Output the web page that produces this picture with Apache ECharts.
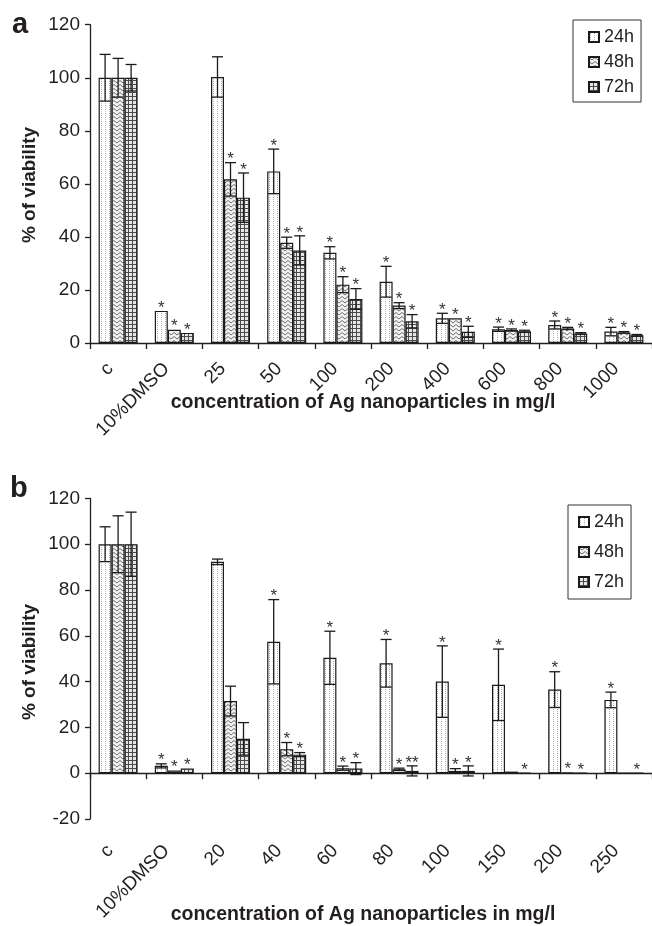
<!DOCTYPE html>
<html>
<head>
<meta charset="utf-8">
<script src="https://cdn.jsdelivr.net/npm/echarts@6/dist/echarts.min.js"></script>
<style>
  html, body { margin: 0; padding: 0; background: #fff; }
  #chart { width: 652px; height: 926px; }
</style>
</head>
<body>
<div id="chart"></div>
<script>
// Cell viability (%) after exposure to Ag nanoparticles, mean ± SD
const catsA = ['c', '10%DMSO', '25', '50', '100', '200', '400', '600', '800', '1000'];
const a24 = [100, 12.1, 100.3, 64.7, 34.0, 23.1, 9.3, 5.2, 6.8, 4.3];
const a24err = [8.8, 0, 7.6, 8.4, 2.3, 5.8, 1.9, 0.8, 1.5, 1.6];
const a48 = [100, 5.0, 61.7, 37.8, 22.0, 14.1, 9.3, 4.9, 5.5, 4.0];
const a48err = [7.3, 0, 6.3, 2.1, 3.0, 1.1, 0, 0.4, 0.4, 0.3];
const a72 = [100, 3.8, 54.8, 34.9, 16.6, 8.2, 4.2, 4.4, 3.6, 2.9];
const a72err = [5.0, 0, 9.3, 5.5, 3.9, 2.5, 2.1, 0.4, 0.3, 0.3];
const a24star = ['', '*', '', '*', '*', '*', '*', '*', '*', '*'];
const a48star = ['', '*', '*', '*', '*', '*', '*', '*', '*', '*'];
const a72star = ['', '*', '*', '*', '*', '*', '*', '*', '*', '*'];

const catsB = ['c', '10%DMSO', '20', '40', '60', '80', '100', '150', '200', '250'];
const b24 = [100, 3.2, 92.3, 57.4, 50.4, 48.0, 40.0, 38.6, 36.5, 32.0];
const b24err = [7.6, 0.9, 1.2, 18.4, 11.6, 10.4, 15.6, 15.6, 7.8, 3.4];
const b48 = [100, 1.2, 31.5, 10.5, 2.2, 1.7, 1.0, 0.7, 0.4, 0];
const b48err = [12.4, 0, 6.5, 2.9, 0.9, 0.5, 1.0, 0, 0, 0];
const b72 = [100, 2.0, 15.0, 8.1, 2.0, 1.0, 1.0, 0, 0, 0];
const b72err = [14.0, 0, 7.1, 0.9, 2.6, 2.2, 2.2, 0, 0, 0];
const b24star = ['', '*', '', '*', '*', '*', '*', '*', '*', '*'];
const b48star = ['', '*', '', '*', '*', '*', '*', '', '*', ''];
const b72star = ['', '*', '', '*', '*', '**', '*', '*', '*', '*'];

const yTicksA = { min: 0, max: 120, interval: 20 };
const yTicksB = { min: -20, max: 120, interval: 20 };
const seriesNames = ['24h', '48h', '72h'];

const FONT = '"Liberation Sans", Arial, sans-serif';
const INK = '#231f20';

// Fill textures: dotted, zigzag, grid
function makePattern(kind) {
  const c = document.createElement('canvas');
  const ctx = c.getContext('2d');
  if (kind === 'dots') {
    c.width = 4; c.height = 4;
    ctx.fillStyle = '#fff'; ctx.fillRect(0, 0, 4, 4);
    ctx.fillStyle = '#9a9a9a'; ctx.fillRect(1, 1, 1, 1);
    ctx.fillStyle = '#c8c8c8'; ctx.fillRect(1, 3, 1, 1);
  } else if (kind === 'zigzag') {
    c.width = 6; c.height = 4;
    ctx.fillStyle = '#f2f2f2'; ctx.fillRect(0, 0, 6, 4);
    ctx.strokeStyle = '#707070'; ctx.lineWidth = 1;
    ctx.beginPath();
    ctx.moveTo(0, 0.5); ctx.lineTo(3, 3); ctx.lineTo(6, 0.5);
    ctx.stroke();
  } else {
    c.width = 4; c.height = 4;
    ctx.fillStyle = '#e6e6e6'; ctx.fillRect(0, 0, 4, 4);
    ctx.fillStyle = '#4a4a4a';
    ctx.fillRect(0, 0, 4, 1);
    ctx.fillRect(0, 0, 1, 4);
  }
  return { image: c, repeat: 'repeat' };
}
const fills = [makePattern('dots'), makePattern('zigzag'), makePattern('grid')];

const BAR_W = 13;
const offsets = [-BAR_W, 0, BAR_W];

function barSeries(name, data, k, axis) {
  return {
    type: 'bar', name: name, xAxisIndex: axis, yAxisIndex: axis,
    data: data, barWidth: BAR_W, barGap: '0%',
    itemStyle: { color: fills[k], borderColor: '#1a1a1a', borderWidth: 1.2 },
    emphasis: { disabled: true }, z: 2
  };
}

function errSeries(vals, errs, stars, k, axis) {
  const dx = offsets[k];
  return {
    type: 'custom', xAxisIndex: axis, yAxisIndex: axis, z: 5,
    silent: true,
    data: vals.map((v, i) => [i, v, errs[i]]),
    encode: { x: 0, y: 1 },
    renderItem: function (params, api) {
      const i = api.value(0), v = api.value(1), e = api.value(2);
      const x = api.coord([i, v])[0] + dx;
      const yTop = api.coord([i, v + e])[1];
      const yBot = api.coord([i, v - e])[1];
      const kids = [];
      const st = { stroke: '#1a1a1a', lineWidth: 1.3 };
      if (e > 0) {
        kids.push({ type: 'line', shape: { x1: x, y1: yTop, x2: x, y2: yBot }, style: st });
        kids.push({ type: 'line', shape: { x1: x - 5.5, y1: yTop, x2: x + 5.5, y2: yTop }, style: st });
        kids.push({ type: 'line', shape: { x1: x - 5.5, y1: yBot, x2: x + 5.5, y2: yBot }, style: st });
      }
      const s = stars[params.dataIndex];
      if (s) {
        kids.push({
          type: 'text',
          style: {
            x: x, y: yTop - 3, text: s, fill: '#333',
            font: '17px ' + FONT, align: 'center', verticalAlign: 'middle'
          }
        });
      }
      return { type: 'group', children: kids };
    }
  };
}

function xAxisCfg(cats, grid, nameGap, labelMargin) {
  return {
    type: 'category', gridIndex: grid, data: cats,
    name: 'concentration of Ag nanoparticles in mg/l',
    nameLocation: 'middle', nameGap: nameGap, nameMoveOverlap: false,
    nameTextStyle: { fontFamily: FONT, fontSize: 19.5, fontWeight: 'bold', color: INK, padding: [0, 16, 0, 0] },
    axisLine: { onZero: true, lineStyle: { color: INK, width: 1.3 } },
    axisTick: { show: true, length: 6, inside: false, lineStyle: { color: INK, width: 1.3 } },
    axisLabel: {
      rotate: 45, margin: labelMargin, interval: 0, padding: [0, 11, 0, 0],
      fontFamily: FONT, fontSize: 19, color: INK
    },
    splitLine: { show: false }
  };
}

function yAxisCfg(t, grid) {
  return {
    type: 'value', gridIndex: grid, min: t.min, max: t.max, interval: t.interval,
    axisLine: { show: true, lineStyle: { color: INK, width: 1.3 } },
    axisTick: { show: true, length: 5, lineStyle: { color: INK, width: 1.3 } },
    axisLabel: { margin: 10, fontFamily: FONT, fontSize: 19, color: INK },
    splitLine: { show: false }
  };
}

function legendCfg(left, top, pad, gap) {
  return {
    orient: 'vertical', left: left, top: top,
    data: seriesNames, icon: 'rect', itemWidth: 10, itemHeight: 10,
    itemGap: gap, padding: pad,
    borderColor: '#333', borderWidth: 1,
    selectedMode: false,
    textStyle: { fontFamily: FONT, fontSize: 18, color: INK }
  };
}

const chart = echarts.init(document.getElementById('chart'), null, { renderer: 'canvas' });
chart.setOption({
  animation: false,
  backgroundColor: '#fff',
  grid: [
    { left: 90, top: 24.7, width: 562, height: 318.3 },
    { left: 90, top: 498.4, width: 562, height: 382.2 }
  ],
  xAxis: [xAxisCfg(catsA, 0, 50, 15), xAxisCfg(catsB, 1, 86, 21)],
  yAxis: [yAxisCfg(yTicksA, 0), yAxisCfg(yTicksB, 1)],
  legend: [
    legendCfg(573, 20, [8, 7, 6, 15], 7),
    legendCfg(568, 505, [8, 7, 8, 10], 12)
  ],
  graphic: [
    { type: 'text', left: 12, top: 10, style: { text: 'a', font: 'bold 29px ' + FONT, fill: INK } },
    { type: 'text', left: 10, top: 474, style: { text: 'b', font: 'bold 29px ' + FONT, fill: INK } },
    { type: 'text', x: 30, y: 185, rotation: Math.PI / 2,
      style: { text: '% of viability', font: 'bold 19px ' + FONT, fill: INK, align: 'center', verticalAlign: 'middle' } },
    { type: 'text', x: 30, y: 662, rotation: Math.PI / 2,
      style: { text: '% of viability', font: 'bold 19px ' + FONT, fill: INK, align: 'center', verticalAlign: 'middle' } }
  ],
  series: [
    barSeries('24h', a24, 0, 0), barSeries('48h', a48, 1, 0), barSeries('72h', a72, 2, 0),
    barSeries('24h', b24, 0, 1), barSeries('48h', b48, 1, 1), barSeries('72h', b72, 2, 1),
    errSeries(a24, a24err, a24star, 0, 0), errSeries(a48, a48err, a48star, 1, 0), errSeries(a72, a72err, a72star, 2, 0),
    errSeries(b24, b24err, b24star, 0, 1), errSeries(b48, b48err, b48star, 1, 1), errSeries(b72, b72err, b72star, 2, 1)
  ]
});
</script>
</body>
</html>
